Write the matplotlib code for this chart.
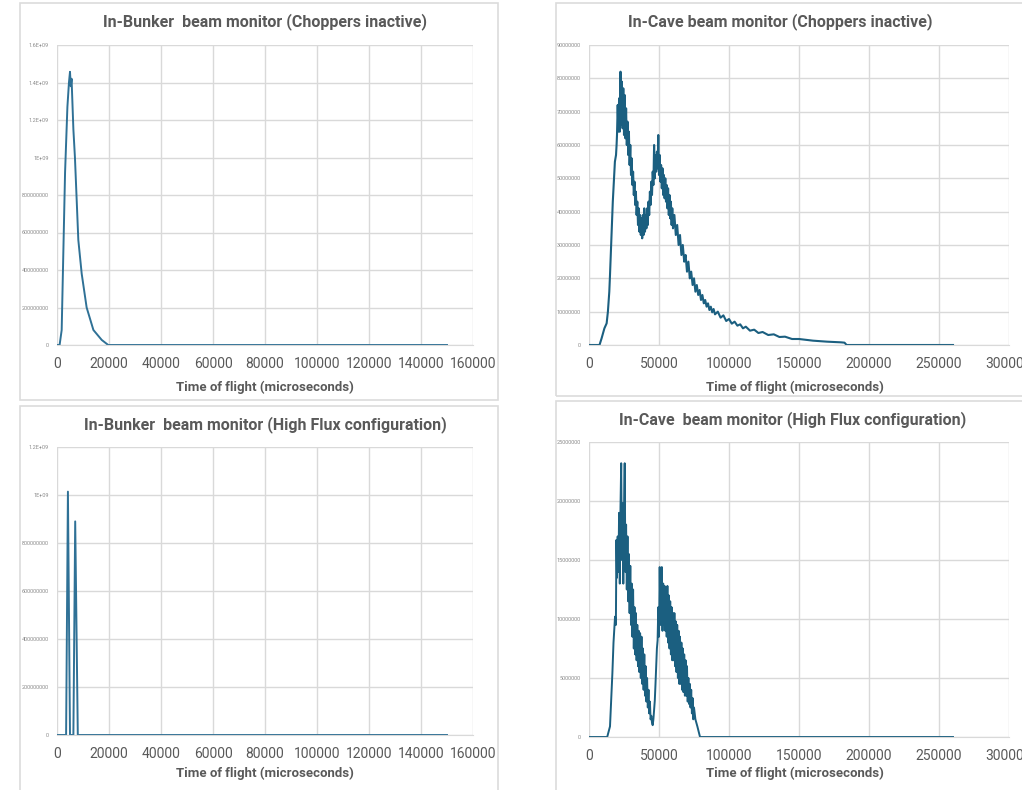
import matplotlib.pyplot as plt
import numpy as np
from matplotlib.patches import Rectangle

# ---- data (x in microseconds / 1000, y in the units noted) ----
bunker_inactive_t = [0, 1.0, 1.8, 2.4, 3.1, 4.0, 4.6, 5.0, 5.3, 5.6, 6.3, 6.9, 8.2, 9.5,
                     11.4, 14.0, 17.2, 19.7, 150]
bunker_inactive_y = [0, 0, 0.08, 0.47, 0.92, 1.27, 1.40, 1.457, 1.38, 1.42, 1.15, 1.0, 0.56,
                     0.38, 0.20, 0.08, 0.027, 0, 0]  # x 1e9

cave_inactive_t = [0, 7.5, 9, 11, 12.6, 13.5, 14.5, 15, 16, 17, 17.5, 18.5, 19.3, 19.7,
                   20, 20.5, 21, 21.5, 22, 22.5, 23, 23.5, 24, 24.5, 25, 25.5, 26, 26.5,
                   27, 27.5, 28, 28.5, 29, 29.5, 30, 30.5, 31, 31.5, 32, 32.5, 33, 33.5,
                   34, 34.5, 35, 35.5, 36, 36.5, 37, 37.5, 38, 38.5, 39, 39.5, 40, 40.5,
                   41, 41.5, 42, 42.5, 43, 43.5, 44, 44.5, 45, 45.5, 46, 46.5, 47, 47.5,
                   48, 48.5, 49, 49.5, 50, 50.5, 51, 51.5, 52, 52.5, 53, 53.5, 54, 54.5,
                   55, 55.5, 56, 56.5, 57, 57.5, 58, 58.5, 59, 59.5, 60,
                   61, 62, 63, 64, 65, 66, 67, 68, 69, 70, 71, 72, 73, 74, 75, 76, 77,
                   78, 79, 80, 81, 82, 83, 84, 85, 86, 87, 88, 89, 90, 92, 94, 96, 98,
                   100, 102, 104, 106, 108, 110, 112, 115, 118, 121, 124, 128, 132, 136,
                   140, 145, 150, 160, 170, 180, 182.5, 184, 260]
cave_inactive_y = [0, 0, 2, 5, 6.5, 10, 16, 21, 32, 43, 47, 55, 57, 60,
                   63, 72, 64, 74, 64, 82, 66, 79, 65, 77, 63, 75, 62, 71,
                   60, 67, 57, 64, 54, 60, 51, 56, 48, 52, 45, 49, 42, 46,
                   39, 43, 36, 41, 34, 39, 33, 38, 32, 39, 33, 41, 34, 39,
                   35, 41, 36, 43, 39, 46, 42, 49, 45, 52, 48, 60, 50, 57,
                   52, 58, 53, 63, 51, 57, 49, 54, 47, 53, 45, 51, 44, 50,
                   43, 48, 41, 47, 39, 45, 38, 43, 36, 41, 35,
                   39, 33, 36, 30, 33, 27, 30, 25, 27, 22, 25, 20, 22, 18, 20, 16, 18,
                   15, 16.5, 13.5, 15, 12.5, 13.5, 11.5, 12.5, 10.5, 11.5, 9.8, 10.8, 9.2, 10,
                   8.2, 8.9, 7.2, 7.8, 6.4, 7.0, 5.8, 6.2, 5.0, 5.5, 4.3, 4.6, 3.6, 3.9,
                   3.0, 3.2, 2.4, 2.5, 1.8, 1.8, 1.3, 1.0, 0.8, 0.7, 0, 0]  # x 1e6

bunker_flux_t = [0, 3.5, 4.2, 5.0, 6.3, 7.0, 8.0, 150]
bunker_flux_y = [0, 0, 1.014, 0, 0, 0.89, 0, 0]  # x 1e9

cave_flux_t = [0, 13, 15, 16.7, 17.5, 18.6, 19.2, 19.6,
               20, 20.5, 21, 21.5, 22, 22.5, 23, 23.5, 24, 24.5, 25, 25.5, 26, 26.5,
               27, 27.5, 28, 28.5, 29, 29.5, 30, 30.5, 31, 31.5, 32, 32.5, 33, 33.5,
               34, 34.5, 35, 35.5, 36, 36.5, 37, 37.5, 38, 38.5, 39, 39.5, 40, 40.5,
               41, 41.5, 42, 42.5, 43, 43.5, 44, 44.5, 45, 45.5, 46, 46.5, 47, 47.5,
               48, 48.5, 49, 49.5, 50, 50.5, 51, 51.5, 52, 52.5, 53, 53.5, 54, 54.5,
               55, 55.5, 56, 56.5, 57, 57.5, 58, 58.5, 59, 59.5, 60, 60.5, 61, 61.5,
               62, 62.5, 63, 63.5, 64, 64.5, 65, 65.5, 66, 66.5, 67, 67.5, 68, 68.5,
               69, 69.5, 70, 70.5, 71, 71.5, 72, 72.5, 73, 73.5, 74, 74.5, 75, 76,
               77.4, 79.3, 260]
cave_flux_y = [0, 0, 0.9, 5.4, 8, 10.2, 9.5, 16.7,
               13.5, 17, 14, 19, 13, 19.5, 23.2, 15, 19.8, 13, 19, 23.2, 14, 18,
               12.5, 17, 11.5, 15.5, 10.5, 14.5, 9.5, 13, 8.5, 12.5, 7.5, 11, 7, 10.5,
               6.5, 9.5, 6, 9, 5.5, 8.8, 5, 8.5, 4.5, 7.5, 4, 7, 3.5, 6,
               3, 5, 2.5, 4, 2, 3, 1.5, 1.8, 1.2, 1.0, 1.5, 2.3, 3.1, 4.5,
               6, 7.5, 8.2, 11, 8.5, 14.4, 9.5, 13, 14.4, 9, 13, 9.5, 12.8, 9,
               12.5, 8.5, 12.8, 8, 12, 7.5, 11.5, 7, 11, 6.5, 10.5, 6.5, 10.5, 6,
               9.8, 5.5, 9.5, 5, 9, 4.5, 8.5, 4.5, 8, 4, 7.5, 3.8, 7, 3.5,
               6.5, 3.5, 6, 3, 5, 2.8, 4.5, 2.5, 4, 2, 3.3, 1.5, 2.5, 1.5,
               0.9, 0, 0]  # x 1e6

titles = ["In-Bunker  beam monitor (Choppers inactive)",
          "In-Cave beam monitor (Choppers inactive)",
          "In-Bunker  beam monitor (High Flux configuration)",
          "In-Cave  beam monitor (High Flux configuration)"]
xlabel = "Time of flight (microseconds)"

bunker_xticks = [0, 20000, 40000, 60000, 80000, 100000, 120000, 140000, 160000]
cave_xticks = [0, 50000, 100000, 150000, 200000, 250000, 300000]
yticks_bunker_inactive = ["0", "200000000", "400000000", "600000000", "800000000",
                          "1E+09", "1.2E+09", "1.4E+09", "1.6E+09"]
yticks_cave_inactive = ["0", "10000000", "20000000", "30000000", "40000000", "50000000",
                        "60000000", "70000000", "80000000", "90000000"]
yticks_bunker_flux = ["0", "200000000", "400000000", "600000000", "800000000",
                      "1E+09", "1.2E+09"]
yticks_cave_flux = ["0", "5000000", "10000000", "15000000", "20000000", "25000000"]

W, H = 1022, 790
GRID = "#d9d9d9"
TEXT = "#595959"
plt.rcParams["font.family"] = ["Roboto", "DejaVu Sans"]

fig = plt.figure(figsize=(W / 100, H / 100), dpi=100)
fig.patch.set_facecolor("white")


def px_axes(x0, y0, x1, y1):
    return fig.add_axes([x0 / W, 1 - y1 / H, (x1 - x0) / W, (y1 - y0) / H])


# panel frames (pixel boxes)
for (x0, y0, x1, y1) in [(20, 3, 498, 400), (556, 3, 1030, 396),
                         (20, 406, 498, 800), (556, 401, 1030, 800)]:
    fig.add_artist(Rectangle((x0 / W, 1 - y1 / H), (x1 - x0) / W, (y1 - y0) / H,
                             transform=fig.transFigure, fill=False,
                             edgecolor="#dcdcdc", linewidth=1.2))

panels = [
    (px_axes(57, 45, 473, 345), bunker_inactive_t, bunker_inactive_y, 1e9,
     bunker_xticks, yticks_bunker_inactive, 2e8, 1.4, "#2f7196", 265, 22, 387),
    (px_axes(589, 45, 1009, 345), cave_inactive_t, cave_inactive_y, 1e6,
     cave_xticks, yticks_cave_inactive, 1e7, 1.5, "#1b5f80", 780, 22, 387),
    (px_axes(57, 447, 473, 735), bunker_flux_t, bunker_flux_y, 1e9,
     bunker_xticks, yticks_bunker_flux, 2e8, 1.4, "#2f7196", 265, 425, 773),
    (px_axes(589, 442, 1009, 737), cave_flux_t, cave_flux_y, 1e6,
     cave_xticks, yticks_cave_flux, 5e6, 1.4, "#1b5f80", 793, 420, 773),
]

for i, (ax, t, y, scale, xticks, ylabels, ystep, lw, color, tx, ty, ly) in enumerate(panels):
    ax.plot(np.array(t) * 1000, np.array(y) * scale, color=color, lw=lw,
            solid_joinstyle="round")
    ax.set_xlim(xticks[0], xticks[-1])
    ax.set_ylim(0, ystep * (len(ylabels) - 1))
    ax.set_xticks(xticks)
    ax.set_xticklabels([str(v) for v in xticks])
    ax.set_yticks([ystep * k for k in range(len(ylabels))])
    ax.set_yticklabels(ylabels)
    ax.grid(True, color=GRID, lw=1.0)
    ax.set_axisbelow(True)
    for side in ["top", "right", "left"]:
        ax.spines[side].set_visible(False)
    ax.spines["bottom"].set_color(GRID)
    ax.tick_params(axis="x", length=0, pad=9, labelsize=10, labelcolor=TEXT)
    ax.tick_params(axis="y", length=0, pad=6, labelsize=4, labelcolor="#8c8c8c")

    fig.text(tx / W, 1 - ty / H, titles[i], ha="center", va="center",
             fontsize=11.5, fontweight="bold", color=TEXT)
    fig.text((tx if i % 2 == 0 else 795) / W, 1 - ly / H, xlabel, ha="center",
             va="center", fontsize=9.5, fontweight="bold", color=TEXT)

fig.savefig("out.png", dpi=100, facecolor="white")
